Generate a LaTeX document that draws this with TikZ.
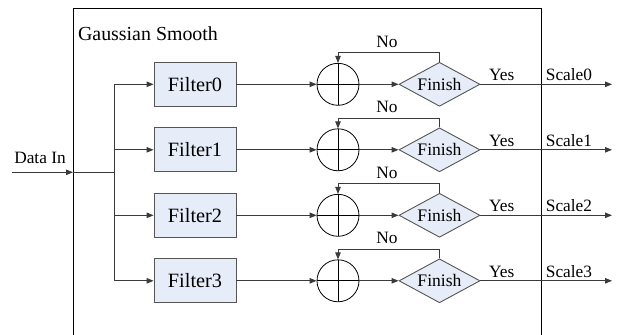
\documentclass[tikz,border=0pt]{standalone}
\usepackage{fontspec}
\setmainfont{Liberation Serif}
\usetikzlibrary{shapes.geometric,arrows.meta}

\definecolor{boxfill}{HTML}{E6EDF8}
\definecolor{linegray}{HTML}{3A3A3A}
\definecolor{edgegray}{HTML}{555555}

\tikzset{
  wire/.style={draw=linegray, line width=0.9pt},
  arr/.style={wire, -{Triangle[length=7pt,width=5.5pt]}},
  filterbox/.style={draw=edgegray, line width=0.9pt, fill=boxfill, rectangle,
    minimum width=82pt, minimum height=44pt, inner sep=0pt,
    font=\fontsize{20.3}{22}\selectfont},
  summer/.style={draw=black, line width=0.8pt, circle, minimum size=42pt, inner sep=0pt,
    path picture={
      \draw[black, line width=0.8pt] (path picture bounding box.north) -- (path picture bounding box.south);
      \draw[black, line width=0.8pt] (path picture bounding box.west) -- (path picture bounding box.east);
    }},
  check/.style={draw=edgegray, line width=0.9pt, fill=boxfill, diamond, aspect=1.84,
    minimum width=81pt, minimum height=44pt, inner sep=0pt,
    font=\fontsize{17.6}{19}\selectfont},
  lbl/.style={font=\fontsize{17.3}{19}\selectfont, inner sep=0pt},
  title/.style={font=\fontsize{19.9}{22}\selectfont, inner sep=0pt},
}

\begin{document}
\begin{tikzpicture}[x=1pt,y=-1pt]
  \useasboundingbox (0,0) rectangle (633,335);

  % enclosing block, open at the bottom
  \draw[draw=black, line width=0.9pt] (73,335) -- (73,8) -- (541,8) -- (541,335);
  \node[title] (ttl) at (148,34) {Gaussian Smooth};

  % input
  \coordinate (in) at (12,172.3);
  \coordinate (port) at (73,172.3);
  \coordinate (split) at (114.3,172.3);
  \node[lbl] (inlbl) at (40,158) {Data In};
  \draw[arr] (in) -- (port);
  \draw[wire] (port) -- (split);

  % four parallel filter stages
  \foreach \i in {0,1,2,3} {
    \pgfmathsetmacro{\yy}{84.3+65.5*\i}
    \coordinate (tap\i) at (114.3,\yy);
    \node[filterbox] (filt\i) at (195,\yy) {Filter\i};
    \node[summer] (sum\i) at (338,\yy) {};
    \node[check] (fin\i) at (439.5,\yy) {Finish};
    \coordinate (out\i) at (612,\yy);
    \coordinate (loopR\i) at (439.5,\yy-31.6);
    \coordinate (loopL\i) at (338,\yy-31.6);

    \draw[arr] (tap\i) -- (filt\i.west);
    \draw[arr] (filt\i.east) -- (sum\i.west);
    \draw[arr] (sum\i.east) -- (fin\i.west);
    \draw[arr] (fin\i.north) -- (loopR\i) -- (loopL\i) -- (sum\i.north);
    \draw[arr] (fin\i.east) -- (out\i);

    \node[lbl] (no\i) at (387,\yy-42.6) {No};
    \node[lbl] (yes\i) at (501.7,\yy-9.3) {Yes};
    \node[lbl] (scale\i) at (569,\yy-9.3) {Scale\i};
  }

  % vertical distribution trunk
  \draw[wire] (tap0) -- (tap3);
\end{tikzpicture}
\end{document}
